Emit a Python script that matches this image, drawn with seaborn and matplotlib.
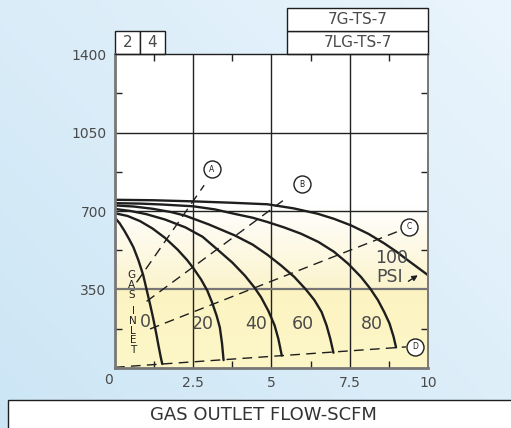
import numpy as np
import pandas as pd
import seaborn as sns
import matplotlib.pyplot as plt
from matplotlib.patches import Rectangle

# Pressure curves (GAS OUTLET FLOW vs. liquid)
psi_labels = ["0", "20", "40", "60", "80", "100"]
curve_x = {
    "0":   [0.0, 0.15, 0.3, 0.45, 0.59, 0.75, 0.9, 1.01, 1.12, 1.22, 1.31, 1.39, 1.46, 1.51],
    "20":  [0.0, 0.4, 0.8, 1.2, 1.6, 2.0, 2.3, 2.5, 2.75, 2.95, 3.1, 3.25, 3.35, 3.42, 3.47],
    "40":  [0.0, 0.5, 1.0, 1.6, 2.25, 2.8, 3.3, 3.75, 4.15, 4.45, 4.67, 4.9, 5.1, 5.22, 5.33],
    "60":  [0.0, 0.6, 1.2, 1.8, 2.25, 3.0, 3.83, 4.4, 4.87, 5.3, 5.73, 6.1, 6.37, 6.6, 6.76,
            6.88, 6.98],
    "80":  [0.0, 0.8, 1.5, 2.5, 3.2, 3.83, 4.4, 4.87, 5.4, 5.94, 6.5, 7.0, 7.45, 7.86, 8.15,
            8.4, 8.6, 8.77, 8.9, 8.98],
    "100": [0.0, 1.2, 2.5, 3.7, 4.87, 5.7, 6.47, 7.0, 7.54, 8.1, 8.61, 9.0, 9.36, 9.7, 10.0],
}
curve_y = {
    "0":   [670, 645, 612, 575, 538, 480, 415, 350, 285, 222, 160, 100, 50, 18],
    "20":  [690, 678, 655, 622, 580, 528, 482, 446, 395, 345, 293, 232, 181, 110, 35],
    "40":  [709, 700, 686, 662, 627, 585, 525, 470, 412, 360, 315, 255, 190, 130, 55],
    "60":  [725, 720, 710, 695, 679, 640, 591, 550, 505, 458, 406, 350, 303, 250, 190,
            130, 68],
    "80":  [735, 733, 729, 721, 707, 687, 670, 651, 627, 599, 562, 518, 465, 406, 355,
            303, 250, 199, 140, 92],
    "100": [750, 748, 743, 737, 730, 712, 688, 665, 636, 598, 555, 518, 480, 445, 414],
}

# Dashed reference lines A-D and their circled letters
ref_names = ["A", "B", "C", "D"]
ref_x = [[0.69, 2.85], [1.01, 5.5], [1.12, 9.15], [0.0, 9.3]]
ref_y = [[382, 815], [297, 760], [174, 615], [3, 94]]
circle_x = [3.09, 5.96, 9.39, 9.58]
circle_y = [887, 820, 630, 95]

# Curve labels
psi_label_x = [0.96, 2.8, 4.5, 6.0, 8.2]
psi_label_y = [205, 198, 198, 198, 198]

x_ticks = [2.5, 5, 7.5, 10]
x_ticklabels = ["2.5", "5", "7.5", "10"]
y_ticks = [350, 700, 1050, 1400]
y_ticklabels = ["350", "700", "1050", "1400"]

sns.set_style("white")
plt.rcParams['font.family'] = ['DejaVu Sans']
text_c = '#4a4a4a'

fig = plt.figure(figsize=(5.11, 4.28), dpi=100)

# light blue page background
bg = fig.add_axes([0, 0, 1, 1], zorder=-10)
gx, gy = np.meshgrid(np.linspace(0, 1, 200), np.linspace(0, 1, 200))
t = np.clip(0.55 * gx + 0.45 * (1 - gy), 0, 1)
c0 = np.array([0.80, 0.90, 0.96])
c1 = np.array([0.92, 0.96, 0.99])
img = c0[None, None, :] * (1 - t[..., None]) + c1[None, None, :] * t[..., None]
bg.imshow(img, extent=[0, 1, 0, 1], aspect='auto', origin='upper')
bg.axis('off')

ax = fig.add_axes([0.2250, 0.1402, 0.6125, 0.7336])

# plot area fill: white above, yellow toward the bottom
yy = np.linspace(0, 1400, 400)
white = np.array([1.0, 1.0, 1.0])
yel_hi = np.array([0.985, 0.955, 0.80])
yel_lo = np.array([0.99, 0.965, 0.78])
rows = []
for v in yy:
    if v >= 730:
        rows.append(white)
    elif v >= 350:
        f = (730 - v) / 380
        rows.append(white * (1 - f) + yel_hi * f)
    else:
        f = v / 350
        rows.append(yel_lo * (1 - f) + np.array([0.99, 0.955, 0.76]) * f)
fill = np.array(rows)[::-1][:, None, :]
ax.imshow(fill, extent=[0, 10, 0, 1400], aspect='auto', zorder=0)

# grid
for gxv in [2.5, 5, 7.5]:
    ax.axvline(gxv, color='#222222', lw=1, zorder=1)
for gyv in [700, 1050]:
    ax.axhline(gyv, color='#222222', lw=1, zorder=1)
ax.axhline(350, color='#777777', lw=1.6, zorder=1)

# pressure curves
for p in psi_labels:
    df = pd.DataFrame({'x': curve_x[p], 'y': curve_y[p]})
    sns.lineplot(data=df, x='x', y='y', sort=False, color='#1e1e1e', lw=1.7,
                 ax=ax, zorder=3)

# dashed reference lines
for name, xs, ys in zip(ref_names, ref_x, ref_y):
    ax.plot(xs, ys, color='#1e1e1e', lw=1.0, linestyle=(0, (7, 4.5)), zorder=3,
            clip_on=False)

# circled letters
ax.scatter(circle_x, circle_y, s=150, facecolor='white', edgecolor='#1e1e1e',
           linewidth=1.0, zorder=5, clip_on=False)
for name, cx, cy in zip(ref_names, circle_x, circle_y):
    ax.text(cx, cy, name, ha='center', va='center', fontsize=5.5,
            color='#1e1e1e', zorder=6)

# curve labels
for lab, lx, ly in zip(psi_labels[:5], psi_label_x, psi_label_y):
    ax.text(lx, ly, lab, ha='center', va='center', fontsize=12.5, color=text_c,
            zorder=4)
ax.text(8.84, 490, "100", ha='center', va='center', fontsize=12.5, color=text_c, zorder=4)
ax.text(8.76, 405, "PSI", ha='center', va='center', fontsize=12.5, color=text_c, zorder=4)
ax.annotate("", xy=(9.75, 420), xytext=(9.3, 380),
            arrowprops=dict(arrowstyle='-|>', color='#1e1e1e', lw=1.0,
                            mutation_scale=8), zorder=4)

# GAS INLET
ax.text(0.52, 435, "G\nA\nS", ha='center', va='top', fontsize=7.5,
        color='#222222', linespacing=0.95, zorder=4)
ax.text(0.58, 275, "I\nN\nL\nE\nT", ha='center', va='top', fontsize=7.5,
        color='#222222', linespacing=0.95, zorder=4)

ax.set_xlim(0, 10)
ax.set_ylim(0, 1400)
ax.set_xlabel('')
ax.set_ylabel('')
ax.set_xticks(x_ticks)
ax.set_xticklabels(x_ticklabels)
ax.set_yticks(y_ticks)
ax.set_yticklabels(y_ticklabels)
ax.set_xticks([1.25, 3.75, 6.25, 8.75], minor=True)
ax.set_yticks([175, 525, 875, 1225], minor=True)
ax.tick_params(which='major', length=0, labelsize=10, labelcolor=text_c, pad=6)
ax.tick_params(which='minor', direction='in', length=5, width=1, color='#222222',
               top=True, bottom=True, left=True, right=True)
ax.text(-0.22, -55, "0", ha='center', va='center', fontsize=10, color=text_c,
        clip_on=False)

for side in ['left', 'bottom']:
    ax.spines[side].set_color('#777777')
    ax.spines[side].set_linewidth(2)
ax.spines['top'].set_color('#1e1e1e')
ax.spines['top'].set_linewidth(1)
ax.spines['right'].set_color('#777777')
ax.spines['right'].set_linewidth(1.4)
for s in ax.spines.values():
    s.set_zorder(6)

# header boxes above the plot
box_kw = dict(facecolor='white', edgecolor='#1e1e1e', lw=1, clip_on=False, zorder=6)
txt_kw = dict(ha='center', va='center', fontsize=11, color=text_c, zorder=7,
              clip_on=False)
ax.add_patch(Rectangle((0, 1400), 0.8, 103, **box_kw))
ax.add_patch(Rectangle((0.8, 1400), 0.8, 103, **box_kw))
ax.text(0.4, 1451, "2", **txt_kw)
ax.text(1.2, 1451, "4", **txt_kw)
ax.add_patch(Rectangle((5.5, 1400), 4.5, 103, **box_kw))
ax.add_patch(Rectangle((5.5, 1503), 4.5, 103, **box_kw))
ax.text(7.75, 1451, "7LG-TS-7", **txt_kw)
ax.text(7.75, 1554, "7G-TS-7", **txt_kw)

# axis title box at the bottom
fig.patches.append(Rectangle((0.0157, -0.02), 1.0, 0.0854, transform=fig.transFigure,
                             facecolor='white', edgecolor='#1e1e1e', lw=1, zorder=5))
fig.text(0.5147, 0.031, "GAS OUTLET FLOW-SCFM", ha='center', va='center',
         fontsize=13, color='#333333', zorder=6)

plt.savefig('out.png', dpi=100)
